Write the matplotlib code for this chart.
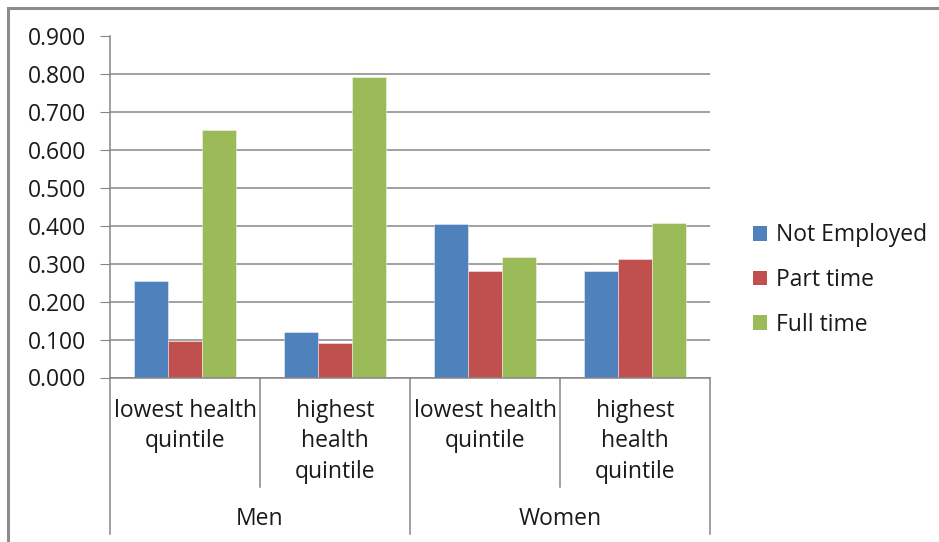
import matplotlib
matplotlib.use("Agg")
import matplotlib.pyplot as plt
from matplotlib.patches import Rectangle, Patch
from matplotlib.lines import Line2D
import numpy as np

plt.rcParams['font.family'] = ['Open Sans', 'DejaVu Sans']

# Data
groups = ["Men", "Women"]
subgroups = ["lowest health\nquintile", "highest\nhealth\nquintile",
             "lowest health\nquintile", "highest\nhealth\nquintile"]
series = ["Not Employed", "Part time", "Full time"]
not_employed = [0.254, 0.121, 0.406, 0.280]
part_time = [0.097, 0.090, 0.280, 0.314]
full_time = [0.652, 0.793, 0.317, 0.408]
colors = ["#4F81BD", "#C0504D", "#9BBB59"]
yticks = [0.0, 0.1, 0.2, 0.3, 0.4, 0.5, 0.6, 0.7, 0.8, 0.9]

W, H = 939, 542
FS = 16.5
TXT = "#1a1a1a"
fig = plt.figure(figsize=(W / 100, H / 100), dpi=100)

# outer chart frame
fig.patches.append(Rectangle((8 / W, -0.1), 1.2, 1 - 8 / H + 0.1,
                             transform=fig.transFigure, fill=False,
                             edgecolor="#8c8c8c", linewidth=2.2))

ax = fig.add_axes([110 / W, 1 - 377.5 / H, 600 / W, 341 / H])

x = np.arange(len(subgroups))
bw = 0.2245
grid_c = "#868686"
for i, (vals, name) in enumerate(zip([not_employed, part_time, full_time], series)):
    ax.bar(x + (i - 1) * bw, vals, width=bw, color=colors[i],
           edgecolor=(1, 1, 1, 0.5), linewidth=0.6, label=name, zorder=3)

ax.set_xlim(-0.5, len(subgroups) - 0.5)
ax.set_ylim(0, 0.9)
ax.set_yticks(yticks)
ax.set_yticklabels([f"{v:.3f}" for v in yticks], fontsize=FS, color=TXT)
ax.yaxis.grid(True, color=grid_c, linewidth=1.1, zorder=0)
ax.tick_params(axis="y", length=7, color=grid_c, pad=10)
ax.set_xticks([])
for s in ["top", "right"]:
    ax.spines[s].set_visible(False)
for s in ["left", "bottom"]:
    ax.spines[s].set_color(grid_c)
    ax.spines[s].set_linewidth(1.1)
    ax.spines[s].set_zorder(4)

# two-level category axis
tr = ax.get_xaxis_transform()
def ypx(py):
    return (H - py - (H - 377.5)) / 341.0

for xs in [0.5, 2.5]:
    ax.add_line(Line2D([xs, xs], [0, ypx(487)], transform=tr, color=grid_c,
                       linewidth=1.1, clip_on=False))
for xs in [-0.5, 1.5, 3.5]:
    ax.add_line(Line2D([xs, xs], [0, ypx(534)], transform=tr, color=grid_c,
                       linewidth=1.1, clip_on=False))
for xi, lab in zip(x, subgroups):
    ax.text(xi, ypx(399), lab, transform=tr, ha="center", va="top",
            fontsize=FS, color=TXT, linespacing=1.36)
for gi, g in enumerate(groups):
    ax.text(gi * 2 + 0.5, ypx(519), g, transform=tr, ha="center", va="center",
            fontsize=FS, color=TXT)

handles = [Patch(facecolor=c, edgecolor="none") for c in colors]
fig.legend(handles, series, loc="center left",
           bbox_to_anchor=(732 / W, 1 - 280 / H), frameon=False,
           fontsize=FS, handlelength=0.62, handleheight=0.62,
           handletextpad=0.4, labelspacing=0.9, labelcolor=TXT)

fig.savefig("out.png", dpi=100)
